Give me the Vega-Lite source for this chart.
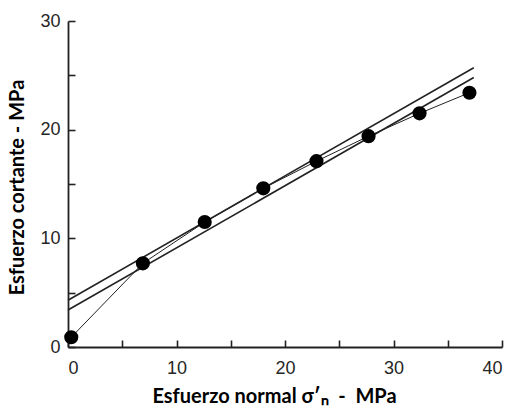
{
  "$schema": "https://vega.github.io/schema/vega-lite/v6.json",
  "width": 434,
  "height": 326,
  "autosize": {"type": "none"},
  "padding": {"left": 68, "top": 21, "right": 10, "bottom": 70},
  "background": "white",
  "config": {
    "view": {"stroke": null},
    "axis": {
      "grid": false,
      "domainColor": "#222222",
      "domainWidth": 1.8,
      "tickColor": "#222222",
      "tickWidth": 1.6,
      "tickSize": -7,
      "labelFont": "Liberation Sans",
      "labelFontSize": 18,
      "labelColor": "#262626",
      "titleFont": "Lato",
      "titleFontWeight": "bold",
      "titleFontSize": 20,
      "titleColor": "#000000"
    }
  },
  "datasets": {
    "pts": [
      {"x": 0.3, "y": 0.9},
      {"x": 6.9, "y": 7.7},
      {"x": 12.6, "y": 11.5},
      {"x": 18.0, "y": 14.6},
      {"x": 22.9, "y": 17.1},
      {"x": 27.7, "y": 19.4},
      {"x": 32.4, "y": 21.5},
      {"x": 37.0, "y": 23.4}
    ],
    "fits": [
      {"fit": "a", "x": 0, "y": 4.3},
      {"fit": "a", "x": 37.4, "y": 25.7},
      {"fit": "b", "x": 0, "y": 3.4},
      {"fit": "b", "x": 37.4, "y": 24.8}
    ]
  },
  "layer": [
    {
      "data": {"name": "pts"},
      "mark": {"type": "line", "color": "#222222", "strokeWidth": 1},
      "encoding": {
        "x": {
          "field": "x", "type": "quantitative",
          "scale": {"domain": [0, 40], "nice": false},
          "axis": {
            "values": [0, 5, 10, 15, 20, 25, 30, 35, 40],
            "labelExpr": "datum.value % 10 === 0 ? datum.label : ''",
            "labelPadding": 19,
            "title": "Esfuerzo normal σ′ₙ\u00a0\u00a0-\u00a0\u00a0MPa",
            "titleX": 206,
            "titleY": 49,
            "titleAlign": "center",
            "titleBaseline": "middle"
          }
        },
        "y": {
          "field": "y", "type": "quantitative",
          "scale": {"domain": [0, 30], "nice": false},
          "axis": {
            "values": [0, 5, 10, 15, 20, 25, 30],
            "labelExpr": "datum.value % 10 === 0 ? datum.label : ''",
            "labelPadding": 15,
            "title": "Esfuerzo cortante - MPa",
            "titleX": -51,
            "titleY": 166,
            "titleAlign": "center",
            "titleBaseline": "middle",
            "titleAngle": -90
          }
        }
      }
    },
    {
      "data": {"name": "fits"},
      "mark": {"type": "line", "color": "#222222", "strokeWidth": 1.6},
      "encoding": {
        "x": {"field": "x", "type": "quantitative"},
        "y": {"field": "y", "type": "quantitative"},
        "detail": {"field": "fit"}
      }
    },
    {
      "data": {"name": "pts"},
      "mark": {"type": "circle", "color": "#000000", "opacity": 1, "size": 200},
      "encoding": {
        "x": {"field": "x", "type": "quantitative"},
        "y": {"field": "y", "type": "quantitative"}
      }
    }
  ]
}
